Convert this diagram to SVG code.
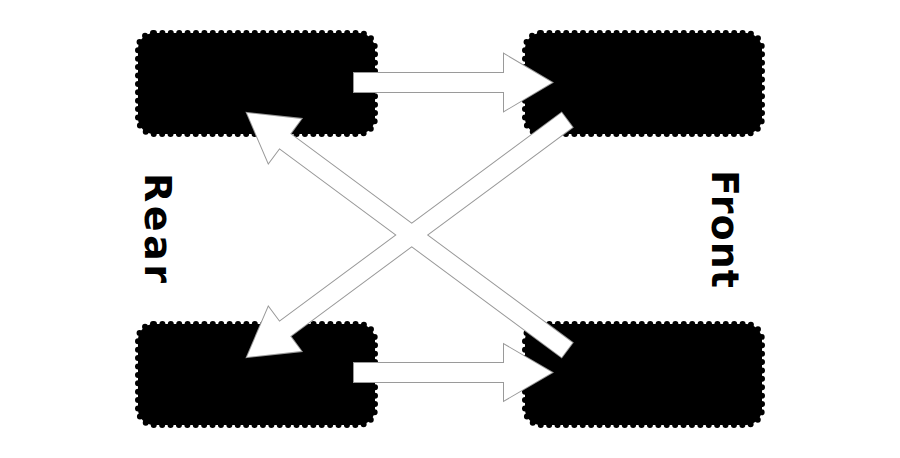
<svg xmlns="http://www.w3.org/2000/svg" xmlns:xlink="http://www.w3.org/1999/xlink" width="900" height="458" viewBox="0 0 900 458">
  <style>
    .tyre { fill: #000; stroke: #000; stroke-width: 6; stroke-dasharray: 0 8.4; stroke-linecap: round; }
    .arrow-edge { fill: #fff; stroke: #9a9a9a; stroke-width: 2; stroke-linejoin: miter; }
    .arrow-fill { fill: #fff; stroke: none; }
    .label { font-family: "DejaVu Sans", "Liberation Sans", sans-serif; font-weight: bold; font-size: 38px; fill: #000; }
  </style>
  <defs>
    <polygon id="a-top" points="354,73 504,73 504,54 552,82.5 504,111 504,92 354,92"/>
    <polygon id="a-bottom" points="354,363 504,363 504,344.5 552,372.5 504,400.5 504,382 354,382"/>
    <polygon id="a-to-rear-top" points="247,113 301.2,118.9 290.2,133.8 572.4,342.8 561.6,357.2 279.4,148.2 268.4,163.1"/>
    <polygon id="a-to-rear-bottom" points="247,357 301.2,351.1 290.2,336.2 572.4,127.2 561.6,112.8 279.4,321.8 268.4,306.9"/>
  </defs>
  <rect width="900" height="458" fill="#fff"/>
  <g id="tyre-rear-top"><rect class="tyre" x="138" y="33" width="237" height="101" rx="16"/></g>
  <g id="tyre-front-top"><rect class="tyre" x="525" y="33" width="237" height="101" rx="16"/></g>
  <g id="tyre-rear-bottom"><rect class="tyre" x="138" y="324" width="237" height="101" rx="16"/></g>
  <g id="tyre-front-bottom"><rect class="tyre" x="525" y="324" width="237" height="101" rx="16"/></g>
  <g id="connectors">
    <use xlink:href="#a-top" class="arrow-edge"/>
    <use xlink:href="#a-bottom" class="arrow-edge"/>
    <use xlink:href="#a-to-rear-top" class="arrow-edge"/>
    <use xlink:href="#a-to-rear-bottom" class="arrow-edge"/>
    <use xlink:href="#a-top" class="arrow-fill"/>
    <use xlink:href="#a-bottom" class="arrow-fill"/>
    <use xlink:href="#a-to-rear-top" class="arrow-fill"/>
    <use xlink:href="#a-to-rear-bottom" class="arrow-fill"/>
  </g>
  <g id="label-rear"><text class="label" transform="translate(145,173) rotate(90)" x="0" y="0" textLength="110" lengthAdjust="spacing">Rear</text></g>
  <g id="label-front"><text class="label" transform="translate(712,170) rotate(90)" x="0" y="0" textLength="118" lengthAdjust="spacing">Front</text></g>
</svg>
